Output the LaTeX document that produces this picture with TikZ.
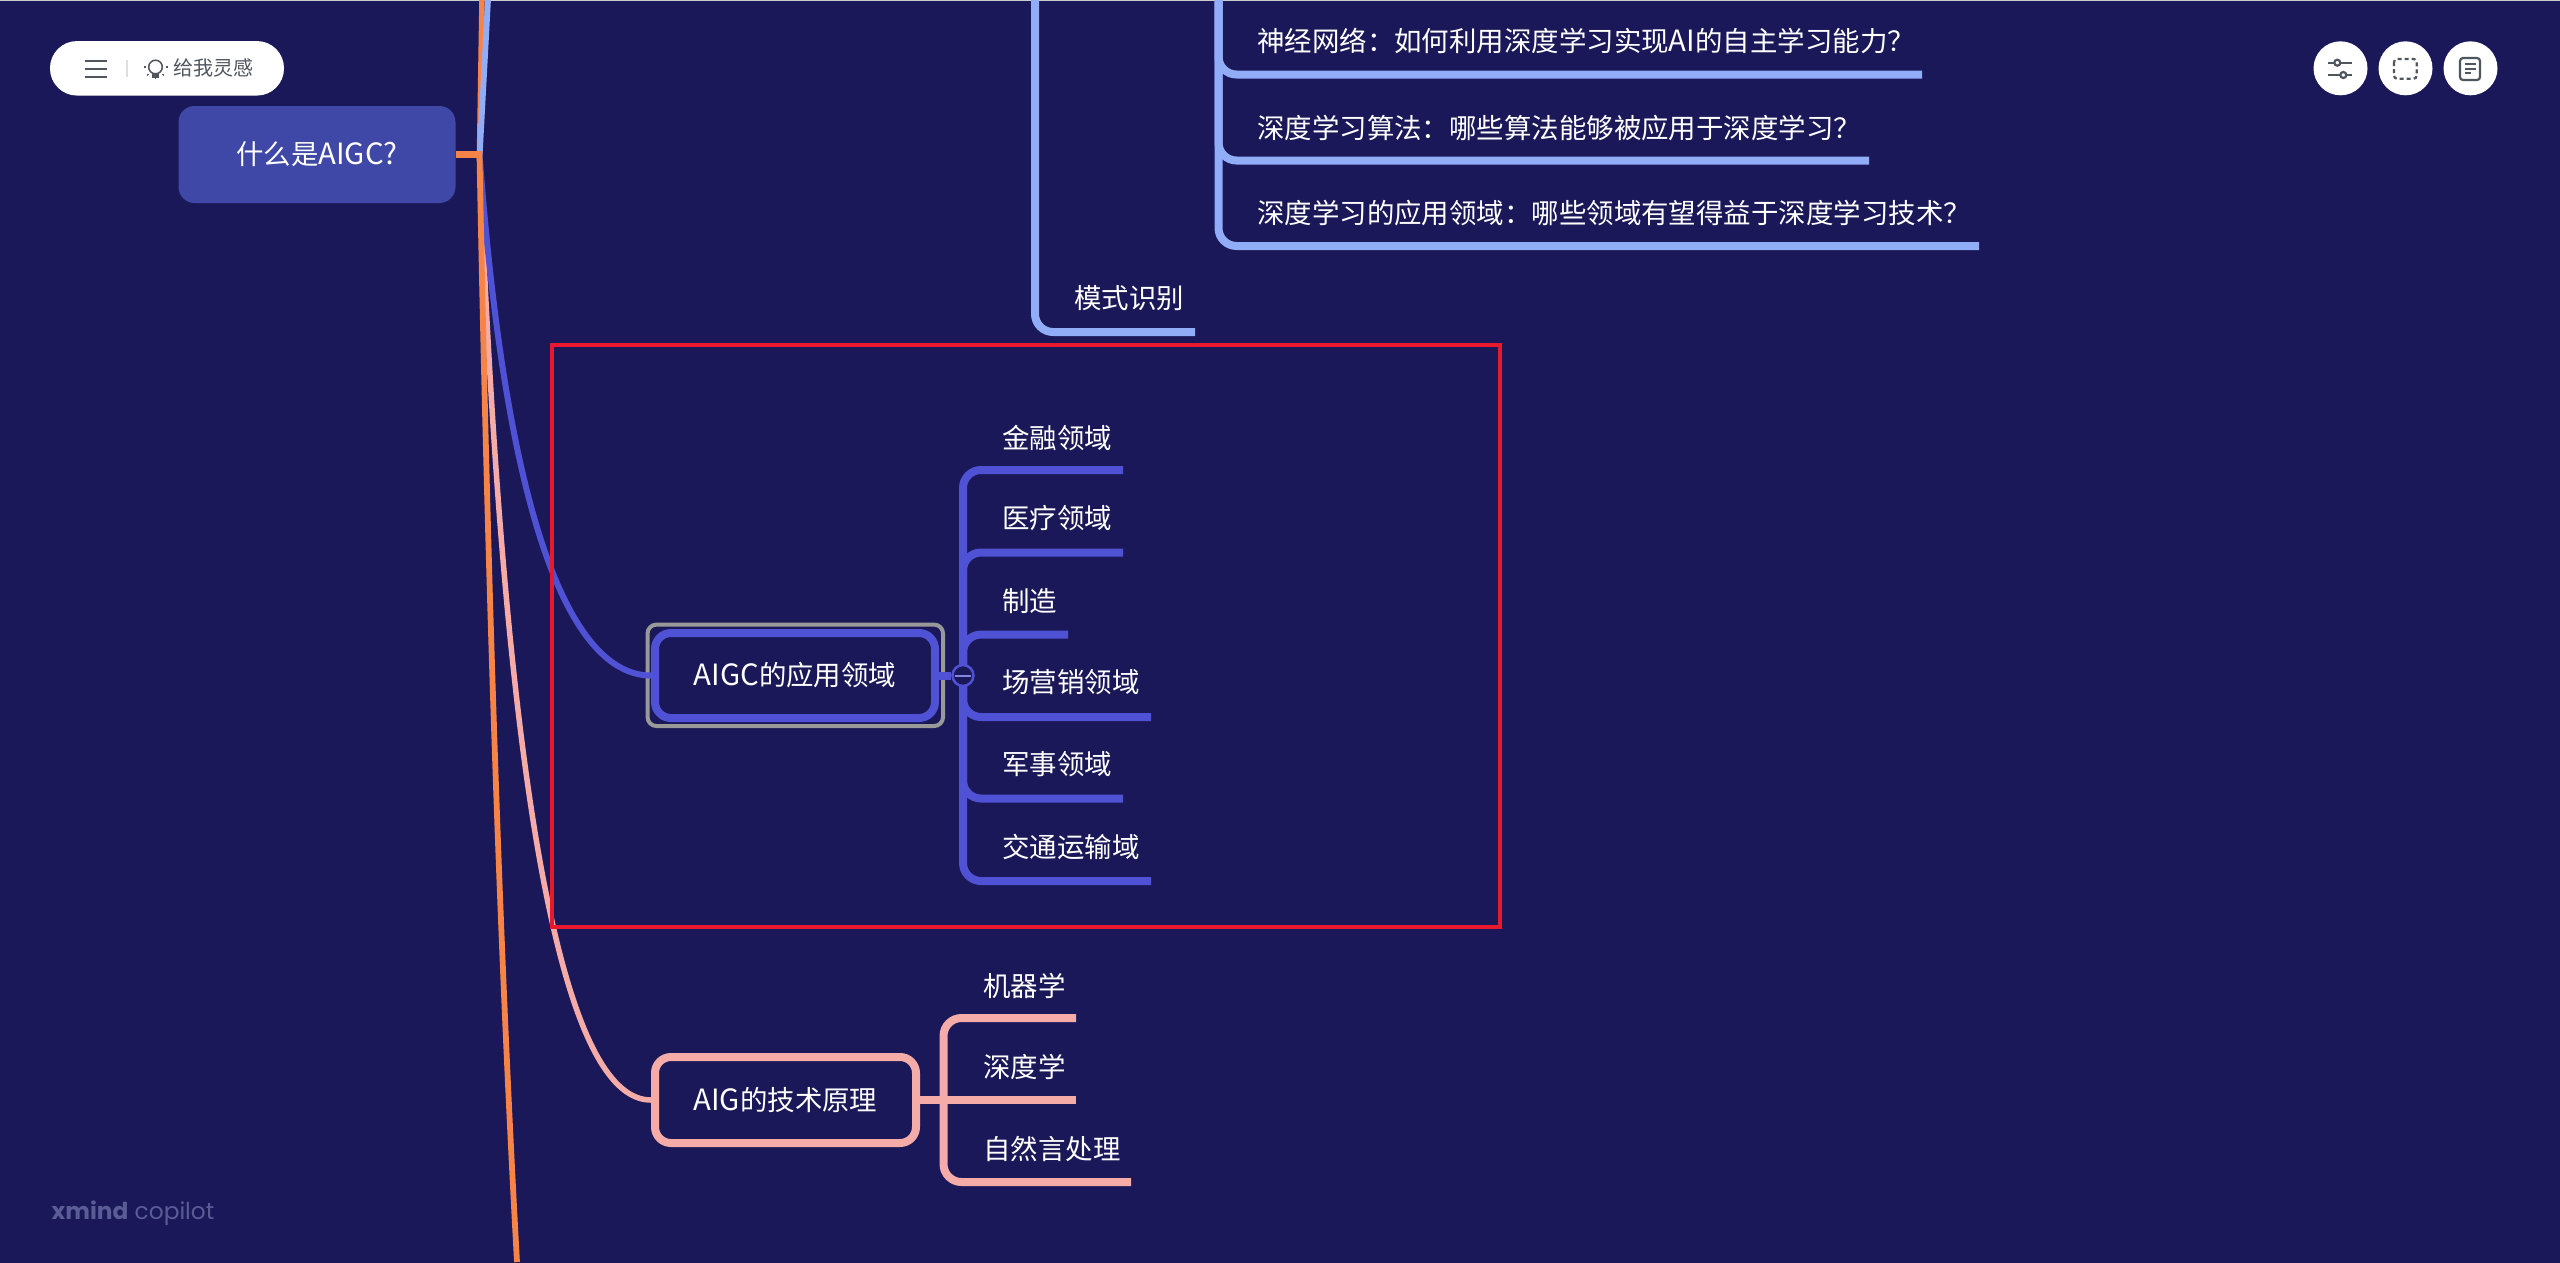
\documentclass[tikz,border=0pt]{standalone}
\usepackage{fontspec}
\usetikzlibrary{calc}
\setmainfont{Noto Sans CJK SC}
\newfontfamily\logofont{Poppins}
\newcommand{\latn}[1]{{\fontsize{29.3}{32}\selectfont #1}}
\definecolor{bgc}{HTML}{1A1858}
\definecolor{rootc}{HTML}{3F48A6}
\definecolor{oran}{HTML}{F68446}
\definecolor{lblue}{HTML}{91ADF8}
\definecolor{purp}{HTML}{4F52D4}
\definecolor{pinkc}{HTML}{F5ABA7}
\definecolor{icong}{HTML}{50565E}
\definecolor{redc}{HTML}{E8192C}
\definecolor{logoc}{HTML}{5A5C96}
\tikzset{
  txt/.style={text=white,font=\fontsize{27.45}{32}\selectfont,inner sep=0pt},
  leaf/.style={txt,anchor=west},
  topicbox/.style={txt,draw,line width=8pt,rounded corners=16pt,inner sep=0pt,align=center},
  blueline/.style={draw=lblue,line width=8pt,rounded corners=18pt},
  purpline/.style={draw=purp,line width=8pt,rounded corners=18pt},
  pinkline/.style={draw=pinkc,line width=8pt,rounded corners=18pt},
  roundbtn/.style={circle,fill=white,minimum size=54pt,inner sep=0pt},
  icon/.style={draw=icong,line width=2.2pt},
}
\begin{document}
\begin{tikzpicture}[x=1pt,y=-1pt]
\useasboundingbox (0,0) rectangle (2560,1262);
\fill[bgc] (-3,-3) rectangle (2563,1265);
\fill[black!20] (-3,-3) rectangle (2563,1.2);

% junction
\coordinate (j) at (479.5,154);

% nodes
\node[txt,fill=rootc,rounded corners=16pt,minimum width=277pt,minimum height=97pt] (root) at (317,154.5) {\raisebox{-1pt}{什么是\latn{AIGC?}}};
\node[draw=black!40,line width=4pt,rounded corners=9pt,minimum width=295.5pt,minimum height=101.5pt,inner sep=0pt] (sel) at (795.3,675.3) {};
\node[topicbox,draw=purp,minimum width=280pt,minimum height=85pt] (app) at (795,675.5) {\raisebox{-0.5pt}{\latn{AIGC}的应用领域}};
\node[topicbox,draw=pinkc,minimum width=261pt,minimum height=86pt] (tech) at (785.5,1100) {\raisebox{-1pt}{\latn{AIG}的技术原理}};

% main connectors
\draw[draw=pinkc,line width=5.5pt] (j) .. controls (510,960) and (590,1100) .. (tech.west);
\draw[draw=purp,line width=6pt] (j) .. controls (510,570) and (585,675.5) .. (app.west);
\draw[draw=oran,line width=5.5pt] (482,0) -- (j);
\draw[draw=lblue,line width=5.8pt] (488,0) -- (479.7,154);
\draw[draw=oran,line width=5.8pt] (j) .. controls (486,500) and (497,900) .. (517,1262);
\draw[draw=oran,line width=6.5pt] (root.east) -- (482,154.5);

% blue tree, outer branch
\coordinate (b0) at (1035,0);
\coordinate (bme) at (1195,332);
\node[leaf] (bm) at (1074,298) {模式识别};
\draw[blueline] (b0) |- (bme);
% blue tree, inner branch
\coordinate (b1) at (1218.5,0);
\coordinate (b1e) at (1922,74.5);
\coordinate (b2e) at (1869,160.5);
\coordinate (b3e) at (1979,246);
\draw[blueline] (b1) |- (b1e);
\draw[blueline] (b1) |- (b2e);
\draw[blueline] (b1) |- (b3e);
\node[leaf] (bt1) at (1257,41) {神经网络：如何利用深度学习实现\latn{AI}的自主学习能力？};
\node[leaf] (bt2) at (1257,128) {深度学习算法：哪些算法能够被应用于深度学习？};
\node[leaf] (bt3) at (1257,213) {深度学习的应用领域：哪些领域有望得益于深度学习技术？};

% red frame
\node[draw=redc,line width=4pt,minimum width=948.3pt,minimum height=582.5pt,inner sep=0pt] (frame) at (1026.2,635.8) {};

% purple tree
\coordinate (pc) at (963,675.5);
\coordinate (p1e) at (1123,470);
\coordinate (p2e) at (1123,552.5);
\coordinate (p3e) at (1068,634.5);
\coordinate (p4e) at (1151,717);
\coordinate (p5e) at (1123,798.5);
\coordinate (p6e) at (1151,881);
\foreach \e in {p1e,p2e,p3e,p4e,p5e,p6e} \draw[purpline] (pc) |- (\e);
\node[leaf] (p1) at (1002,437.5) {金融领域};
\node[leaf] (p2) at (1002,518.5) {医疗领域};
\node[leaf] (p3) at (1002,601.5) {制造};
\node[leaf] (p4) at (1002,682.5) {场营销领域};
\node[leaf] (p5) at (1002,764.5) {军事领域};
\node[leaf] (p6) at (1002,846.5) {交通运输域};
\node[circle,draw=purp,fill=bgc,line width=2.5pt,minimum size=21pt,inner sep=0pt] (fold) at (963,675.5) {};
\draw[draw=purp,line width=8pt] (app.east) -- (fold.west);
\draw[draw=purp!70!white,line width=2pt] ([xshift=-8pt]fold.center) -- ([xshift=8pt]fold.center);

% pink tree
\coordinate (kc) at (943.5,1100);
\coordinate (k1e) at (1076,1018);
\coordinate (k2e) at (1076,1100);
\coordinate (k3e) at (1131,1182);
\draw[pinkline] (kc) |- (k1e);
\draw[pinkline] (kc) |- (k3e);
\draw[draw=pinkc,line width=8pt] (tech.east) -- (k2e);
\node[leaf] (k1) at (983,986) {机器学};
\node[leaf] (k2) at (983,1067) {深度学};
\node[leaf] (k3) at (983,1149) {自然言处理};

% menu pill
\node[fill=white,rounded corners=27pt,minimum width=234pt,minimum height=54.5pt,inner sep=0pt] (pill) at (167,68.3) {};
\foreach \y in {61,69,77} \draw[icong,line width=2.4pt] (84.5,\y) -- (107.3,\y);
\draw[black!13,line width=2pt] (127,60) -- (127,77);
\draw[icong,line width=1.5pt] (155.5,67) circle (6.8pt);
\fill[icong] (152,73) rectangle (159,78);
\foreach \a in {0,45,90,135,180}
  \draw[icong,line width=1.2pt] ($(155.5,67)-(\a:10pt)$) -- ($(155.5,67)-(\a:12pt)$);
\node[inner sep=0pt,anchor=west,text=icong,font=\fontsize{20}{24}\selectfont] (ins) at (173.5,68.3) {给我灵感};

% right buttons
\node[roundbtn] (btn1) at (2340.5,68.3) {};
\node[roundbtn] (btn2) at (2405.5,68.3) {};
\node[roundbtn] (btn3) at (2470.5,68.3) {};
\draw[icon] (2327.7,62.7) -- (2352,62.7);
\draw[icon] (2327.7,75) -- (2352,75);
\draw[icon,fill=white] (2337.3,62.7) circle (3pt);
\draw[icon,fill=white] (2343.3,75) circle (3pt);
\draw[icon,dash pattern=on 4pt off 3pt,rounded corners=3pt] (2394,59) rectangle (2416.7,78.7);
\draw[icon,rounded corners=3pt] (2460,58) rectangle (2480,80);
\draw[icon] (2465,64.3) -- (2475.5,64.3);
\draw[icon] (2465,68.7) -- (2475.5,68.7);
\draw[icon] (2465,72.7) -- (2471,72.7);

% logo
\node[anchor=west,inner sep=0pt,text=logoc,font=\fontsize{23.3}{28}\selectfont\logofont] (logo) at (51.5,1213.5) {\textbf{xmind} copilot};
\end{tikzpicture}
\end{document}
